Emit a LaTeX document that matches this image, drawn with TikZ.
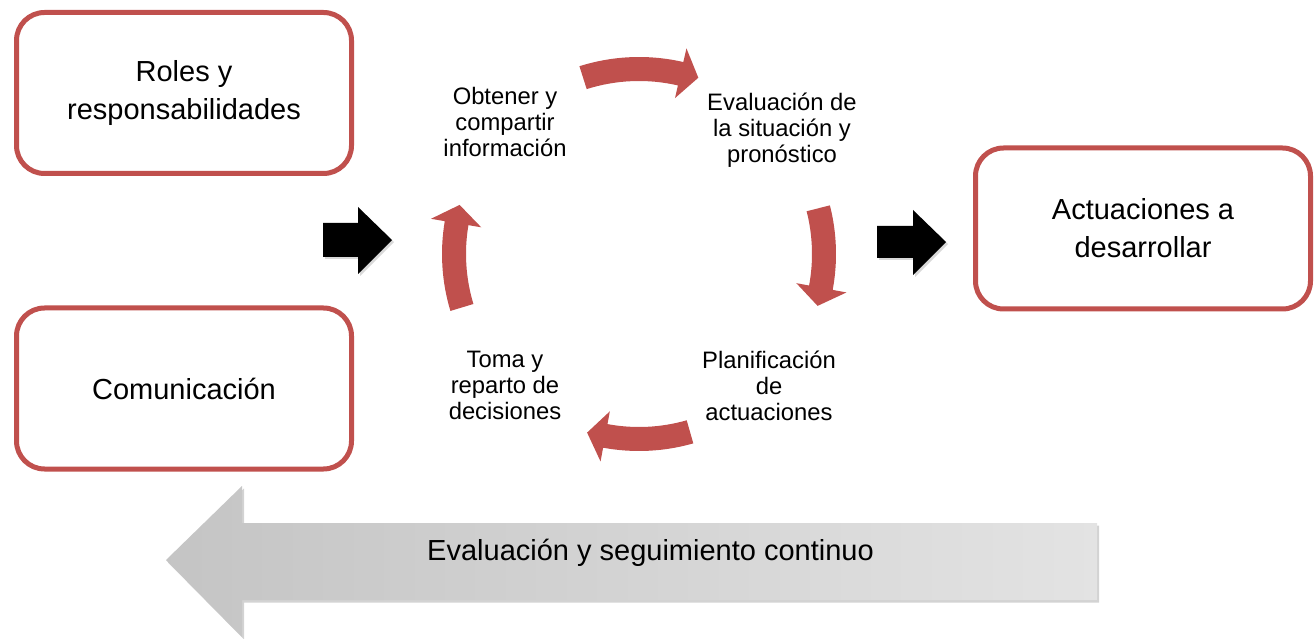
\documentclass[tikz,border=0pt]{standalone}
\usepackage{fontspec}
\setmainfont{Liberation Sans}
\usetikzlibrary{shadows}
\definecolor{rojo}{HTML}{C0504D}
\tikzset{
  caja/.style={draw=rojo, line width=5pt, rounded corners=28pt, fill=white,
    minimum width=335pt, minimum height=161pt, align=center,
    font=\fontsize{29}{38}\selectfont},
  paso/.style={align=center, font=\fontsize{23.8}{26}\selectfont},
  flecharoja/.style={fill=rojo},
  flechanegra/.style={fill=black, drop shadow={opacity=0.3, shadow xshift=2pt, shadow yshift=-2pt}},
}

\begin{document}
\begin{tikzpicture}[x=1pt,y=1pt]
    \useasboundingbox (0,0) rectangle (1315,638);
    \coordinate (M) at (639,384);

    \node[caja] (roles) at (184,545) {Roles y\\responsabilidades};
    \node[caja] (comun) at (184,249.5) {Comunicación};
    \node[caja] (actua) at (1143,409.5) {Actuaciones a\\desarrollar};

    % flechas negras
    \fill[flechanegra] (323,381) -- ++(0,34) -- ++(35,0) -- ++(0,16) -- ++(34,-33) -- ++(-34,-34) -- ++(0,17) -- cycle;
    \fill[flechanegra] (877,380) -- ++(0,32) -- ++(36,0) -- ++(0,16) -- ++(33,-32) -- ++(-33,-33) -- ++(0,17) -- cycle;

    % ciclo
    \begin{scope}[shift={(M)}]
      \foreach \a/\h/\b in {107.6/77/71.4, 14.3/-10.5/-16.2, -74/-100.5/-106.2, 196.8/170.4/164.7}
        \fill[flecharoja] (\a:197pt) arc[start angle=\a, end angle=\h, radius=197pt] -- (\h:211pt) -- (\b:186pt) -- (\h:160pt) -- (\h:173pt) arc[start angle=\h, end angle=\a, radius=173pt] -- cycle;
    \end{scope}

    \node[paso] (obtener) at (505,516.5) {Obtener y\\compartir\\información};
    \node[paso] (evalua) at (782,508) {Evaluación de\\la situación y\\pronóstico};
    \node[paso] (planif) at (769,252.5) {Planificación\\de\\actuaciones};
    \node[paso] (toma) at (505,252.5) {Toma y\\reparto de\\decisiones};

    % flecha gris de abajo
    \path[left color=black!23, right color=black!11, drop shadow={opacity=0.35, shadow xshift=2pt, shadow yshift=-2.5pt}]
      (166,78) -- (242,152) -- (242,115) -- (1097,115) -- (1097,38) -- (242,38) -- (242,1) -- cycle;
    \node[anchor=base, font=\fontsize{29}{32}\selectfont] (seguim) at (650.5,77.3) {Evaluación y seguimiento continuo};
\end{tikzpicture}
\end{document}
